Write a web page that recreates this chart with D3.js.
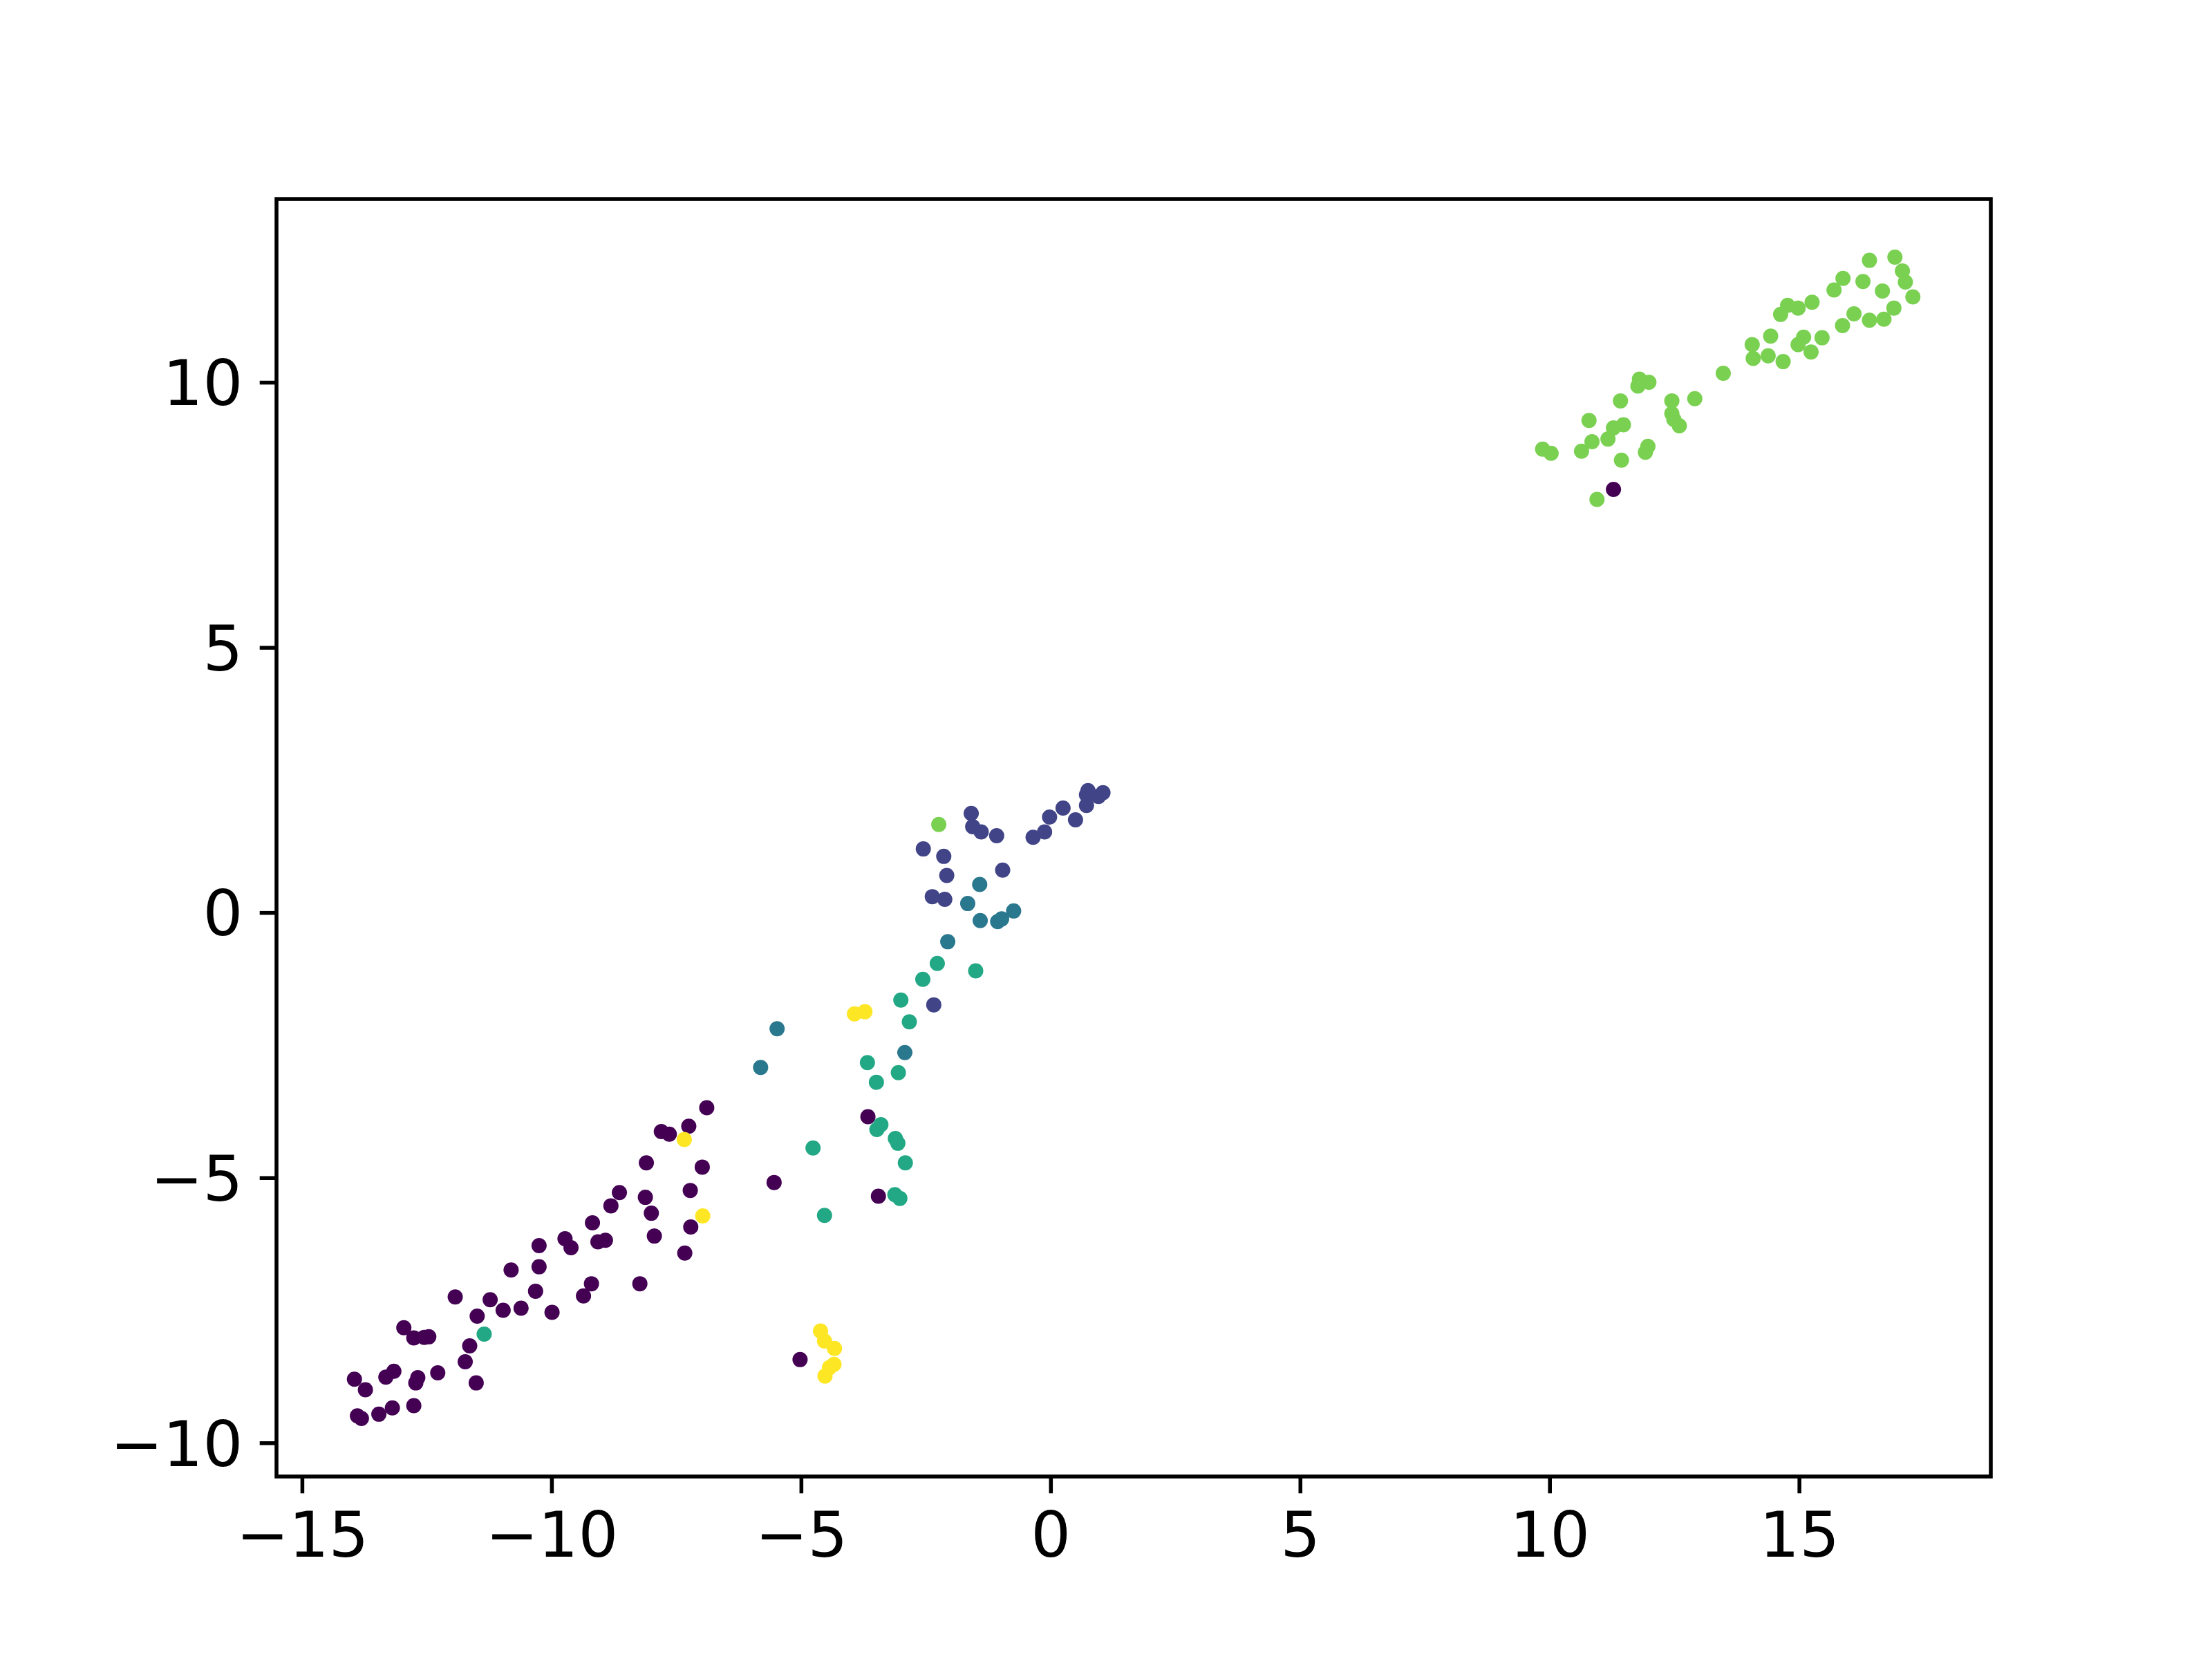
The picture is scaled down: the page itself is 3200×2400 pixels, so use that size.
<!DOCTYPE html>
<html>
<head>
<meta charset="utf-8">
<script src="https://cdn.jsdelivr.net/npm/d3@7"></script>
<style>
  body { margin: 0; background: #fff; }
  svg { display: block; }
</style>
</head>
<body>
<script>
// Points per cluster label, [x, y]
const cluster0 = [
  [11.28, 7.98], [-3.66, -3.85], [-5.54, -5.09], [-3.45, -5.35], [-5.02, -8.43],
  [-6.89, -3.68], [-7.25, -4.03], [-7.80, -4.13], [-7.64, -4.18], [-8.10, -4.72],
  [-6.98, -4.80], [-8.64, -5.28], [-8.12, -5.37], [-7.22, -5.24], [-8.81, -5.53],
  [-8.00, -5.67], [-9.18, -5.85], [-7.21, -5.93], [-9.73, -6.15], [-9.61, -6.32],
  [-9.07, -6.21], [-8.92, -6.18], [-7.94, -6.10], [-7.33, -6.42], [-10.25, -6.28],
  [-10.25, -6.68], [-10.81, -6.74], [-9.20, -7.00], [-9.36, -7.23], [-8.23, -7.00],
  [-10.32, -7.14], [-9.99, -7.54], [-11.93, -7.25], [-11.23, -7.30], [-10.97, -7.50],
  [-10.61, -7.46], [-11.49, -7.61], [-12.96, -7.83], [-12.76, -8.02], [-12.55, -8.01],
  [-12.46, -8.00], [-11.64, -8.17], [-11.73, -8.47], [-13.16, -8.65], [-13.32, -8.76],
  [-13.95, -8.80], [-12.68, -8.77], [-12.72, -8.87], [-12.28, -8.68], [-11.51, -8.87],
  [-13.73, -9.00], [-13.89, -9.49], [-13.81, -9.54], [-13.46, -9.46], [-13.19, -9.34],
  [-12.76, -9.30]
];
const cluster1 = [
  [-1.59, 1.87], [-1.56, 1.62], [-1.39, 1.52], [-1.08, 1.45], [-2.55, 1.20],
  [-2.14, 1.06], [-2.08, 0.70], [-0.96, 0.80], [-2.37, 0.30], [-2.12, 0.25],
  [-0.35, 1.42], [-0.12, 1.52], [-0.02, 1.80], [0.25, 1.97], [0.50, 1.75],
  [0.72, 2.02], [0.72, 2.22], [0.75, 2.30], [0.96, 2.19], [1.05, 2.26],
  [-2.34, -1.74]
];
const cluster2 = [
  [-1.42, 0.53], [-1.66, 0.17], [-1.41, -0.15], [-1.06, -0.17], [-0.98, -0.12],
  [-0.74, 0.03], [-2.06, -0.55], [-5.48, -2.19], [-2.92, -2.64], [-5.81, -2.92]
];
const cluster3 = [
  [-2.27, -0.96], [-1.50, -1.10], [-2.56, -1.26], [-3.00, -1.65], [-2.83, -2.06],
  [-3.67, -2.83], [-3.05, -3.02], [-3.49, -3.20], [-3.40, -4.00], [-3.48, -4.09],
  [-3.11, -4.26], [-3.06, -4.35], [-2.91, -4.72], [-4.76, -4.44], [-3.12, -5.32],
  [-3.02, -5.39], [-4.53, -5.71], [-11.35, -7.95]
];
const cluster4 = [
  [16.41, 12.30], [16.92, 12.36], [17.07, 12.10], [17.13, 11.89], [17.28, 11.61],
  [15.88, 11.96], [16.28, 11.90], [15.70, 11.74], [16.67, 11.72], [16.90, 11.40],
  [16.10, 11.29], [16.41, 11.17], [16.70, 11.19], [15.87, 11.07], [15.26, 11.51],
  [14.77, 11.45], [14.98, 11.40], [14.63, 11.28], [14.43, 10.87], [14.06, 10.71],
  [14.08, 10.45], [14.38, 10.50], [14.68, 10.39], [15.09, 10.85], [14.98, 10.71],
  [15.46, 10.84], [15.24, 10.57], [13.48, 10.17], [12.91, 9.69], [12.45, 9.65],
  [12.45, 9.41], [12.49, 9.30], [12.60, 9.18], [11.80, 10.06], [11.77, 9.93],
  [11.99, 10.00], [11.42, 9.65], [10.79, 9.28], [11.48, 9.20], [11.28, 9.14],
  [10.85, 8.88], [11.17, 8.93], [10.64, 8.70], [9.86, 8.74], [10.03, 8.66],
  [11.97, 8.79], [11.92, 8.68], [11.44, 8.53], [10.95, 7.79], [-2.24, 1.66]
];
const cluster5 = [
  [-3.93, -1.91], [-3.72, -1.87], [-7.34, -4.28], [-6.97, -5.72], [-4.61, -7.89],
  [-4.53, -8.08], [-4.33, -8.22], [-4.34, -8.52], [-4.43, -8.58], [-4.52, -8.74]
];
const clusters = [cluster0, cluster1, cluster2, cluster3, cluster4, cluster5];

const xTicks = [-15, -10, -5, 0, 5, 10, 15];
const yTicks = [-10, -5, 0, 5, 10];

// Figure layout (matplotlib default 6.4x4.8in @ 500 dpi)
const width = 3200;
const height = 2400;
const margin = { left: 400, right: 320, top: 288, bottom: 264 };
const pt = 500 / 72;
const fontSize = 91;

const points = clusters.flatMap((c, i) => c.map(d => ({ x: d[0], y: d[1], label: i })));

// 5% padding like matplotlib autoscale
function padded(ext) {
  const p = (ext[1] - ext[0]) * 0.05;
  return [ext[0] - p, ext[1] + p];
}

const xScale = d3.scaleLinear()
  .domain(padded(d3.extent(points, d => d.x)))
  .range([margin.left, width - margin.right]);

const yScale = d3.scaleLinear()
  .domain(padded(d3.extent(points, d => d.y)))
  .range([height - margin.bottom, margin.top]);

const colorScale = d3.scaleSequential(d3.interpolateViridis).domain([0, clusters.length - 1]);

const svg = d3.select('body')
  .append('svg')
  .attr('width', width)
  .attr('height', height);

svg.append('rect')
  .attr('width', width)
  .attr('height', height)
  .attr('fill', '#fff');

// Scatter points
svg.append('g')
  .selectAll('circle')
  .data(points)
  .enter()
  .append('circle')
  .attr('cx', d => xScale(d.x))
  .attr('cy', d => yScale(d.y))
  .attr('r', 11)
  .attr('fill', d => colorScale(d.label));

const fmt = d => d3.format('d')(d).replace('-', '\u2212');

// Axes
const xAxis = d3.axisBottom(xScale)
  .tickValues(xTicks)
  .tickFormat(fmt)
  .tickSize(3.5 * pt)
  .tickPadding(27);

const yAxis = d3.axisLeft(yScale)
  .tickValues(yTicks)
  .tickFormat(fmt)
  .tickSize(3.5 * pt)
  .tickPadding(3.5 * pt);

const gx = svg.append('g')
  .attr('transform', 'translate(0,' + (height - margin.bottom) + ')')
  .call(xAxis);

const gy = svg.append('g')
  .attr('transform', 'translate(' + margin.left + ',0)')
  .call(yAxis);

[gx, gy].forEach(g => {
  g.select('.domain').remove();
  g.selectAll('line').attr('stroke', '#000').attr('stroke-width', 0.8 * pt);
  g.selectAll('text')
    .attr('fill', '#000')
    .style('font-family', '"DejaVu Sans", sans-serif')
    .style('font-size', fontSize + 'px');
});
gy.selectAll('text').attr('dy', '0.36em');

// Spines
svg.append('rect')
  .attr('x', margin.left)
  .attr('y', margin.top)
  .attr('width', width - margin.left - margin.right)
  .attr('height', height - margin.top - margin.bottom)
  .attr('fill', 'none')
  .attr('stroke', '#000')
  .attr('stroke-width', 0.8 * pt);
</script>
</body>
</html>
